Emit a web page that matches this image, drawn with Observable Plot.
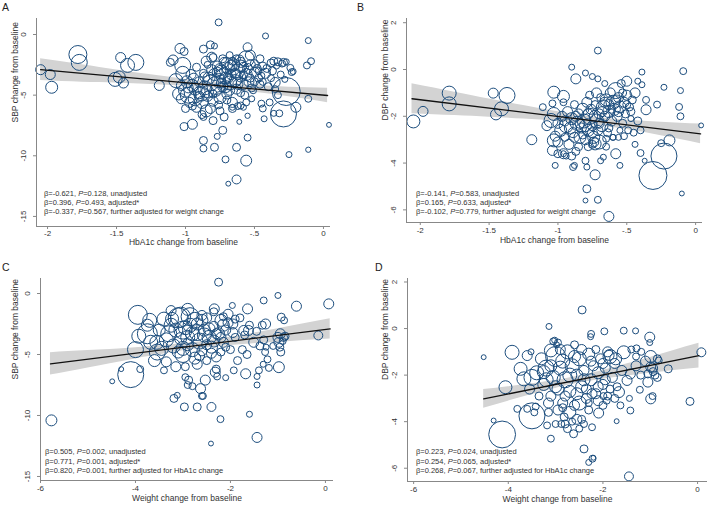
<!DOCTYPE html>
<html><head><meta charset="utf-8">
<script src="https://cdn.jsdelivr.net/npm/d3@7"></script>
<script src="https://cdn.jsdelivr.net/npm/@observablehq/plot@0.6"></script>
<style>
body{margin:0;background:#fff;font-family:"Liberation Sans",Arial,sans-serif;}
#wrap{position:relative;width:709px;height:508px;overflow:hidden;background:#fff;}
.panel{position:absolute;}
.letter{position:absolute;font-size:10.5px;color:#222;line-height:12px;}
.note{position:absolute;font-size:7.5px;line-height:9.3px;color:#333;white-space:nowrap;}
</style></head><body><div id="wrap"></div>
<script>
// ---- Panel A: HbA1c change vs SBP change  [x, y, study weight]
const hba1cSbp = [
[-2.05,-2.9,25],[-1.98,-3.3,25],[-1.97,-4.35,36],[-1.78,-1.65,81],[-1.77,-2.3,64],[-1.51,-3.7,49],[-1.48,-3.5,36],[-1.47,-1.9,25],[-1.45,-4.0,25],[-1.42,-2.55,49],[-1.36,-2.3,64],[-1.19,-4.2,25],[-1.11,-2.3,16],
[-0.76,1.0,12],[-0.42,-0.12,9],[-0.11,-0.5,9],[-1.04,-1.15,25],[-1.01,-1.4,16],[-0.87,-1.2,16],[-0.82,-0.85,16],[-0.79,-0.95,9],[-0.55,-1.05,20],[-0.12,-2.55,12],[-0.09,-2.2,12],[-1.02,-2.55,64],[-1.02,-3.2,49],[-1.07,-3.8,49],[-1.09,-2.1,25],[-0.84,-2.5,12],[-0.81,-1.87,25],[-0.56,-2.0,64],[-0.53,-1.7,25],[-0.46,-2.0,16],[-0.38,-2.35,16],[-0.33,-2.25,16],[-0.29,-2.3,16],[-0.27,-2.25,9],[-0.23,-3.1,12],[-0.24,-2.75,12],[-0.37,-3.0,16],[-0.22,-3.05,9],
[-0.11,-5.3,12],[-0.2,-6.0,25],[-0.32,-6.5,12],[-0.36,-6.5,9],[-0.43,-6.95,9],[-0.39,-5.6,12],[-0.45,-5.7,12],[-0.44,-6.1,12],[-0.55,-6.7,7],[-0.61,-7.2,6],[-0.55,-8.5,12],[-0.72,-6.8,16],[-0.73,-7.9,16],[-0.77,-8.4,9],[-0.87,-8.74,16],[-0.87,-9.4,12],[-0.79,-9.3,16],[-0.63,-9.3,16],[-0.71,-10.3,12],[-0.56,-10.4,30],[-0.25,-9.9,9],[-0.11,-9.5,7],[0.04,-7.45,6],[-0.69,-12.3,6],[-0.63,-11.95,20],[-1.01,-7.6,16],[-0.95,-7.4,25],[-0.87,-6.8,12],[-0.8,-7.1,16],[-0.75,-6.3,16],[-0.6,-5.85,12],[-0.66,-6.0,9],[-0.58,-6.0,9],
[-0.27,-4.7,196],[-0.29,-6.55,169],
[-1.05,-4.9,36],[-1.03,-5.3,25],[-1.0,-4.6,49],[-0.98,-5.0,64],[-0.97,-5.6,25],[-0.95,-4.2,36],[-0.94,-3.6,25],[-0.93,-5.3,49],[-0.92,-6.0,25],[-0.9,-4.8,36],[-0.9,-3.9,25],[-0.88,-5.6,36],[-0.87,-3.2,16],[-0.86,-4.4,49],[-0.85,-6.3,36],[-0.84,-5.1,25],[-0.83,-3.6,36],[-0.82,-4.0,64],[-0.81,-2.9,25],[-0.8,-5.5,25],[-0.79,-3.3,36],[-0.78,-4.6,36],[-0.77,-2.6,25],[-0.76,-3.8,49],[-0.75,-5.2,36],[-0.74,-3.1,49],[-0.73,-4.3,25],[-0.72,-2.3,25],[-0.71,-3.6,36],[-0.7,-4.9,25],[-0.69,-2.8,36],[-0.68,-4.0,49],[-0.67,-3.3,25],[-0.66,-5.6,25],[-0.65,-2.5,36],[-0.64,-3.8,36],[-0.63,-4.5,25],[-0.62,-3.0,49],[-0.61,-2.1,25],[-0.6,-3.5,25],[-0.59,-4.1,36],[-0.58,-2.7,25],[-0.57,-5.0,16],[-0.56,-3.3,36],[-0.54,-3.9,25],[-0.53,-2.5,25],[-0.52,-4.4,16],[-0.5,-3.1,25],[-0.48,-2.8,16],[-0.47,-3.6,16],[-0.46,-4.1,16],[-0.44,-2.6,16],[-0.42,-3.2,25],[-0.4,-4.3,16],[-0.38,-3.6,12],[-0.36,-2.2,16],[-0.34,-2.6,9],[-0.31,-3.3,12],[-0.3,-2.4,12],[-0.28,-3.7,9],[-0.8,-1.9,16],[-0.85,-2.2,25],[-0.92,-2.7,16],[-0.96,-3.3,25],[-0.99,-3.9,36],[-1.0,-6.1,16],[-0.88,-6.6,16],[-0.82,-6.1,25],[-0.76,-5.8,16],[-0.7,-5.4,16],[-0.66,-6.1,16],[-0.62,-5.9,12],[-0.56,-5.6,12],[-0.52,-5.3,9],[-0.6,-4.8,16],[-0.68,-4.6,25],[-0.72,-3.4,64],[-0.78,-4.2,81],[-0.65,-3.6,81],[-0.88,-4.9,49],[-0.75,-2.9,36],[-0.7,-2.4,36],[-0.6,-2.6,36],[-0.66,-2.2,16],
[-0.35,-3.95,25],[-0.5,-3.9,16],[-0.45,-3.4,12],[-0.51,-4.6,12],[-0.35,-4.5,12],[-0.33,-5.0,12],
[-0.98,-4.4,25],[-0.95,-5.9,16],[-0.9,-5.1,25],[-0.86,-3.5,25],[-0.84,-4.7,36],[-0.8,-4.9,16],[-0.77,-3.1,25],[-0.74,-4.0,25],[-0.71,-4.3,36],[-0.69,-3.6,25],[-0.67,-2.6,36],[-0.64,-3.2,25],[-0.62,-4.1,25],[-0.6,-2.3,25],[-0.58,-3.3,16],[-0.55,-2.8,25],[-0.53,-3.6,16],[-0.5,-2.4,16],[-0.47,-3.0,12],[-0.44,-3.9,12],[-0.41,-2.8,16],[-0.73,-2.0,16],[-0.68,-1.7,12],[-0.63,-2.0,16],[-0.93,-4.5,36],[-1.03,-4.2,25]
];
// ---- Panel B: HbA1c change vs DBP change
const hba1cDbp = [
[-2.05,-2.22,42],[-1.98,-1.79,25],[-1.79,-1.01,49],[-1.79,-1.47,49],[-1.47,-1.01,25],[-1.45,-1.92,30],[-1.41,-1.68,49],[-1.37,-1.11,64],[-1.19,-3.0,25],[-1.11,-1.61,12],
[-0.71,0.81,12],[-0.9,0.1,9],[-0.87,-0.4,25],[-0.8,-0.15,9],[-0.75,-0.3,9],[-0.71,-0.4,9],[-0.39,-0.11,9],[-0.09,-0.07,12],[-0.23,-0.76,9],[-0.42,-0.5,9],[-0.39,-0.65,9],[-0.11,-0.9,9],[-0.12,-1.6,12],[-0.11,-2.0,12],[0.04,-2.39,6],[-0.28,-1.5,12],[-0.36,-1.72,25],[-0.36,-1.3,12],
[-1.03,-0.97,36],[-0.96,-1.15,36],[-0.96,-1.4,12],[-1.04,-1.45,12],[-1.03,-1.9,42],[-1.05,-2.18,49],[-1.08,-2.4,25],[-1.03,-3.03,42],[-1.04,-3.46,25],[-1.0,-3.6,16],[-0.96,-3.6,9],[-0.94,-3.7,9],[-1.02,-4.1,9],[-0.89,-4.17,12],[-0.88,-4.1,9],[-0.79,-4.17,9],[-0.8,-3.9,12],[-0.73,-4.5,25],[-0.79,-5.1,16],[-0.8,-5.6,6],[-0.71,-5.57,12],[-0.63,-6.28,25],[-0.65,-3.3,12],[-0.58,-3.6,25],[-0.55,-4.1,9],[-0.69,-3.9,9],[-0.67,-3.75,9],[-0.73,-3.18,36],[-0.74,-3.1,25],[-0.75,-3.2,16],[-0.65,-2.96,12],[-0.6,-2.9,9],[-0.56,-2.9,9],[-0.52,-2.85,12],[-0.44,-3.2,9],[-0.4,-3.57,12],[-0.37,-3.9,6],[-0.1,-5.3,6],[-0.19,-3.03,30],[-0.25,-3.15,12],[-0.23,-3.7,169],[-0.31,-4.53,196],[-1.02,-2.85,25],[-1.0,-3.1,25],
[-1.0,-2.3,25],[-0.98,-2.6,36],[-0.97,-2.0,25],[-0.95,-2.9,16],[-0.94,-2.4,49],[-0.93,-1.8,25],[-0.92,-3.2,25],[-0.9,-2.1,36],[-0.89,-2.7,25],[-0.88,-1.5,16],[-0.87,-3.5,16],[-0.86,-2.3,49],[-0.85,-1.9,25],[-0.84,-2.9,36],[-0.83,-2.5,25],[-0.82,-1.7,36],[-0.81,-2.2,49],[-0.8,-3.0,25],[-0.79,-1.4,25],[-0.78,-2.6,36],[-0.77,-2.0,64],[-0.76,-1.7,25],[-0.75,-2.4,25],[-0.74,-2.9,36],[-0.73,-1.5,16],[-0.72,-2.2,49],[-0.71,-2.6,25],[-0.7,-1.9,25],[-0.69,-1.2,16],[-0.68,-2.4,36],[-0.67,-1.6,49],[-0.66,-2.0,25],[-0.65,-1.3,36],[-0.64,-2.7,16],[-0.63,-1.8,36],[-0.62,-1.0,25],[-0.61,-2.2,25],[-0.6,-1.4,49],[-0.59,-1.7,36],[-0.58,-0.9,64],[-0.57,-2.0,25],[-0.56,-1.2,25],[-0.55,-1.6,36],[-0.54,-0.6,16],[-0.53,-2.3,16],[-0.52,-1.4,25],[-0.51,-1.9,16],[-0.5,-1.1,25],[-0.49,-2.6,12],[-0.48,-1.6,16],[-0.47,-2.1,9],[-0.46,-1.3,16],[-0.45,-2.7,12],[-0.63,-2.5,16],[-0.7,-3.1,49],[-0.78,-3.3,16],[-0.85,-3.3,16],[-0.9,-3.7,16],[-0.96,-3.6,25],[-0.6,-2.9,9],[-0.66,-0.6,9],[-0.72,-1.0,25],[-0.77,-1.1,16],[-0.55,-2.6,9],[-0.42,-2.2,16],[-0.4,-2.6,12],[-0.44,-1.0,25],[-0.5,-0.5,25],
[-0.95,-2.2,25],[-0.91,-2.5,36],[-0.87,-2.0,25],[-0.84,-2.3,25],[-0.8,-2.4,36],[-0.78,-1.9,25],[-0.75,-2.7,25],[-0.73,-2.0,36],[-0.7,-2.3,25],[-0.68,-1.8,25],[-0.66,-1.4,25],[-0.63,-1.5,25],[-0.61,-1.7,16],[-0.58,-1.3,25],[-0.56,-1.8,25],[-0.53,-1.0,16],[-0.5,-1.5,16],[-0.47,-1.8,16],[-0.88,-2.9,25],[-0.82,-2.8,16]
];
// ---- Panel C: weight change vs SBP change
const weightSbp = [
[-5.77,-10.4,30],[-4.49,-7.2,6],[-4.3,-6.2,6],[-4.1,-6.65,169],[-3.95,-1.75,90],[-3.7,-2.2,49],[-3.75,-3.3,100],[-3.93,-3.5,49],[-4.0,-4.6,64],[-3.68,-4.0,49],[-3.54,-4.8,64],[-3.9,-6.2,12],[-3.4,-6.3,12],[-3.23,-2.08,42],[-3.05,-1.94,100],[-2.95,-6.86,12],[-2.88,-7.1,16],[-2.9,-7.5,12],[-2.8,-7.6,12],[-2.63,-7.8,25],[-2.6,-8.4,12],[-3.19,-8.6,16],[-3.12,-8.35,9],[-2.97,-9.3,16],[-2.7,-9.3,16],[-2.4,-9.3,20],[-2.21,-10.3,12],[-2.41,-12.3,6],[-1.6,-9.9,9],[-1.44,-11.8,25],
[-2.25,0.93,16],[-1.0,-0.16,9],[-1.3,-0.57,12],[-0.61,-1.04,25],[0.07,-0.85,25],[-1.96,-0.98,9],[-2.34,-1.26,25],[-1.64,-1.26,25],[-0.93,-1.94,16],[-0.87,-2.2,12],[-1.26,-2.5,25],[-1.33,-2.6,16],[-1.62,-3.03,25],[-1.72,-3.03,25],[-0.15,-3.44,20],[-0.95,-3.3,25],[-0.88,-3.6,16],[-1.51,-4.0,25],[-1.38,-4.3,16],[-1.27,-4.8,12],[-1.22,-5.4,12],[-0.98,-6.04,30],[-1.19,-6.1,12],[-1.31,-5.8,9],[-1.4,-6.3,12],[-1.44,-6.8,9],[-1.44,-7.5,9],[-1.68,-6.58,25],[-1.93,-6.3,12],[-2.1,-6.9,9],[-2.32,-6.45,25],[-2.28,-6.8,12],[-2.53,-7.1,25],[-2.58,-8.4,12],
[-3.4,-2.1,49],[-3.3,-3.3,64],[-3.2,-4.3,49],[-3.1,-2.0,100],[-3.05,-3.7,36],[-3.0,-5.0,64],[-2.95,-2.8,49],[-2.9,-4.2,36],[-2.85,-1.9,81],[-2.8,-3.3,49],[-2.75,-5.3,36],[-2.7,-2.5,36],[-2.65,-3.9,64],[-2.6,-4.7,25],[-2.55,-3.0,36],[-2.5,-2.0,25],[-2.45,-3.6,49],[-2.4,-4.4,36],[-2.35,-2.7,25],[-2.3,-5.2,25],[-2.25,-3.3,36],[-2.2,-2.2,36],[-2.15,-4.0,25],[-2.1,-3.0,25],[-2.05,-1.7,25],[-2.0,-4.6,16],[-1.95,-2.5,25],[-1.9,-3.6,16],[-1.85,-5.5,16],[-1.8,-2.0,16],[-3.5,-3.0,36],[-3.45,-4.5,49],[-3.6,-5.5,36],[-3.35,-5.6,25],[-3.15,-6.0,25],[-2.95,-6.0,16],[-2.7,-5.8,25],[-2.5,-5.5,16],[-2.3,-6.2,16],[-3.25,-1.4,25],[-2.9,-1.3,36],[-2.6,-1.8,25],[-2.35,-1.5,16],[-3.55,-4.0,49],[-3.75,-2.6,36],[-2.8,-4.6,49],[-2.5,-4.2,25],[-2.2,-4.8,16],[-1.75,-4.6,16],[-1.7,-3.4,16],[-1.65,-5.0,16],[-1.6,-2.6,16],[-3.0,-3.0,81],[-2.75,-2.2,64],[-2.55,-3.4,49],[-2.35,-3.9,36],[-2.15,-2.6,36],[-1.95,-3.2,25],
[-1.0,-3.6,25],[-0.98,-4.0,25],[-0.96,-4.4,16],[-0.94,-4.8,16],[-0.9,-3.9,12],[-1.1,-4.3,12],[-1.3,-3.8,16],[-1.25,-4.4,9],[-1.45,-3.1,16],[-0.85,-3.5,16],
[-3.35,-3.8,49],[-3.15,-3.0,49],[-3.0,-4.5,49],[-2.85,-2.6,49],[-2.7,-3.2,64],[-2.6,-2.2,36],[-2.45,-2.9,36],[-2.3,-3.3,25],[-2.2,-3.6,25],[-2.05,-2.4,25],[-1.9,-2.1,16],[-2.9,-3.6,49],[-3.1,-4.8,36],[-2.4,-4.9,25],[-2.1,-4.4,16],[-2.65,-5.1,25],[-3.25,-2.6,49],[-2.15,-1.9,16]
];
// ---- Panel D: weight change vs DBP change
const weightDbp = [
[-4.52,-1.23,6],[-4.31,-3.95,6],[-4.13,-4.55,180],[-4.06,-2.52,42],[-3.92,-1.02,49],[-3.6,-1.16,25],[-3.52,-1.0,9],[-3.74,-1.73,42],[-3.67,-2.16,49],[-3.5,-3.75,169],[-3.81,-3.45,12],[-3.6,-3.45,12],[-3.42,-3.35,12],[-3.45,-3.6,12],[-3.14,0.09,9],[-3.1,-0.94,42],[-3.02,-0.5,9],[-2.98,-0.7,9],[-3.25,-1.87,42],[-3.15,-3.2,25],[-3.18,-4.16,12],[-3.0,-4.1,12],[-2.88,-4.1,12],[-3.1,-4.73,12],[-2.85,-3.4,16],[-2.82,-3.8,16],[-2.65,-4.0,12],[-2.75,-4.3,16],
[-2.44,0.8,16],[-2.25,-0.23,12],[-2.26,-0.35,9],[-1.97,-0.12,12],[-1.56,-0.09,12],[-1.31,-0.1,9],[-1.01,-0.37,25],[-1.01,-0.6,9],[0.08,-1.02,20],[-0.62,-1.73,16],[-0.82,-1.37,12],[-0.99,-1.2,36],[-0.99,-1.65,25],[-0.94,-1.85,16],[-1.05,-1.95,16],[-1.29,-0.85,12],[-1.19,-1.0,12],[-1.56,-1.02,42],[-1.73,-1.3,36],[-1.87,-1.15,25],[-1.42,-1.95,25],[-1.49,-2.23,25],[-1.22,-2.63,12],[-1.44,-3.0,9],[-1.66,-2.73,30],[-1.63,-3.3,12],[-0.99,-3.02,25],[-0.95,-2.9,12],[-0.16,-3.13,16],[-1.42,-3.52,12],[-1.71,-3.98,6],[-2.09,-3.63,25],[-1.92,-3.1,12],[-1.99,-2.9,12],[-2.23,-2.8,25],[-2.3,-3.2,12],[-2.23,-4.24,12],[-2.45,-3.9,16],[-2.5,-4.3,12],[-2.62,-4.52,16],[-2.4,-5.17,16],[-2.22,-5.59,12],[-2.2,-5.55,6],[-1.45,-6.35,20],[-2.3,-5.75,9],
[-3.4,-1.9,49],[-3.3,-1.3,36],[-3.25,-2.4,36],[-3.2,-1.7,64],[-3.1,-2.9,25],[-3.05,-2.1,49],[-3.0,-1.2,100],[-2.95,-2.6,36],[-2.9,-1.7,49],[-2.85,-3.2,25],[-2.8,-2.2,64],[-2.75,-1.0,49],[-2.7,-2.7,36],[-2.65,-1.6,49],[-2.6,-3.3,25],[-2.55,-2.0,36],[-2.5,-1.3,49],[-2.45,-2.5,36],[-2.4,-1.8,25],[-2.35,-3.0,25],[-2.3,-1.1,36],[-2.25,-2.2,36],[-2.2,-1.6,25],[-2.15,-2.8,25],[-2.1,-1.9,36],[-2.05,-1.3,25],[-2.0,-2.4,25],[-1.95,-1.7,25],[-1.9,-2.9,16],[-1.85,-1.2,49],[-1.8,-2.1,25],[-1.75,-1.5,25],[-1.7,-2.5,16],[-3.5,-2.1,64],[-3.55,-2.6,25],[-3.15,-3.6,16],[-2.95,-3.5,25],[-2.7,-3.6,36],[-2.5,-3.2,49],[-2.3,-3.5,16],[-2.1,-3.1,25],[-2.9,-0.9,25],[-2.6,-0.7,16],[-2.45,-0.9,25],[-2.15,-0.9,16],[-1.9,-1.0,25],[-3.05,-0.55,12],[-2.95,-0.6,12],[-3.35,-2.9,16],[-2.8,-4.1,16],[-2.55,-3.9,25],[-2.4,-4.1,12],[-2.0,-3.3,16],[-1.75,-3.0,16],[-1.6,-1.8,25],[-1.3,-1.6,25],[-1.2,-2.0,16],[-1.1,-1.4,25],[-0.95,-1.7,25],[-0.9,-2.0,16],[-1.05,-2.3,25],[-1.4,-0.9,12],[-1.3,-1.2,12],[-0.85,-1.3,16],[-0.85,-2.1,16],
[-3.2,-2.2,49],[-3.0,-2.5,36],[-2.85,-1.4,49],[-2.7,-2.0,49],[-2.55,-2.8,36],[-2.4,-2.2,36],[-2.25,-1.4,25],[-2.1,-2.5,25],[-1.95,-2.2,25],[-2.6,-1.2,36],[-2.8,-2.9,25],[-3.1,-1.6,36],[-2.35,-2.6,25],[-2.0,-1.5,25],[-1.85,-2.6,16]
];

// ---- fitted lines (endpoints) and 95% CI bands
const fitA_x = [-2.05, 0.03], fitA_y = [-2.9, -5.03];
const bandA_x  = [-2.05,-1.75,-1.5,-1.25,-1.0,-0.75,-0.5,-0.25,0.03];
const bandA_lo = [-3.80,-3.93,-4.00,-4.12,-4.26,-4.45,-4.77,-5.14,-5.63];
const bandA_hi = [-2.00,-2.49,-2.92,-3.32,-3.70,-4.01,-4.21,-4.34,-4.43];

const fitB_x = [-2.06, 0.036], fitB_y = [-1.25, -2.75];
const bandB_x  = [-2.06,-1.75,-1.5,-1.25,-1.0,-0.75,-0.5,-0.25,0.036];
const bandB_lo = [-1.89,-1.97,-2.04,-2.12,-2.21,-2.35,-2.57,-2.83,-3.17];
const bandB_hi = [-0.61,-0.97,-1.26,-1.54,-1.81,-2.03,-2.17,-2.25,-2.33];

const fitC_x = [-5.79, 0.1], fitC_y = [-5.77, -2.9];
const bandC_x  = [-5.79,-5,-4,-3,-2.7,-2,-1,0.1];
const bandC_lo = [-6.69,-6.10,-5.36,-4.70,-4.55,-4.26,-4.00,-3.74];
const bandC_hi = [-4.85,-4.68,-4.44,-4.12,-3.99,-3.58,-2.88,-2.06];

const fitD_x = [-4.52, 0.03], fitD_y = [-3.02, -1.16];
const bandD_x  = [-4.52,-4,-3.5,-3,-2.6,-2,-1.5,-1,-0.5,0.03];
const bandD_lo = [-3.42,-3.12,-2.83,-2.57,-2.38,-2.18,-2.04,-1.92,-1.80,-1.69];
const bandD_hi = [-2.62,-2.50,-2.37,-2.23,-2.08,-1.80,-1.52,-1.24,-0.94,-0.63];

// ---- ticks and labels
const hbTicks = [-2,-1.5,-1,-0.5,0];
const wtTicks = [-6,-4,-2,0];
const sbpTicks = [0,-5,-10,-15];
const dbpTicks = [2,0,-2,-4,-6];
const hbLabel = "HbA1c change from baseline";
const wtLabel = "Weight change from baseline";
const sbpLabel = "SBP change from baseline";
const dbpLabel = "DBP change from baseline";
const statsA = [["-0.621","0.128","unadjusted"],["0.396","0.493","adjusted*"],["-0.337","0.567","further adjusted for weight change"]];
const statsB = [["-0.141","0.583","unadjusted"],["0.165","0.633","adjusted*"],["-0.102","0.779","further adjusted for weight change"]];
const statsC = [["0.505","0.002","unadjusted"],["0.771","0.001","adjusted*"],["0.820","0.001","further adjusted for HbA1c change"]];
const statsD = [["0.223","0.024","unadjusted"],["0.254","0.065","adjusted*"],["0.268","0.067","further adjusted for HbA1c change"]];

const wrap = document.getElementById("wrap");
const fmt = d => d === 0 ? "0" : String(d).replace(/^(-?)0\./, "$1.");
const FONT = "Liberation Sans, Arial, sans-serif";

function panel(cfg) {
  const pts = cfg.pts.map(([x, y, w]) => ({x, y, w}));
  const band = cfg.bx.map((x, i) => ({x, lo: cfg.blo[i], hi: cfg.bhi[i]}));
  const fit = cfg.fx.map((x, i) => ({x, y: cfg.fy[i]}));
  const svg = Plot.plot({
    width: cfg.width, height: cfg.height,
    marginLeft: cfg.m[0], marginRight: cfg.m[1], marginTop: cfg.m[2], marginBottom: cfg.m[3],
    x: {domain: cfg.xd}, y: {domain: cfg.yd},
    r: {type: "sqrt", domain: [0, 225], range: [0, 15]},
    style: {fontFamily: FONT, fontSize: "8px", background: "transparent", overflow: "visible", color: "#333"},
    marks: [
      Plot.areaY(band, {x: "x", y1: "lo", y2: "hi", fill: "#d3d3d3", curve: "natural"}),
      Plot.dot(pts, {x: "x", y: "y", r: "w", stroke: "#1d4e7e", strokeWidth: 1, fill: "none"}),
      Plot.line(fit, {x: "x", y: "y", stroke: "#111", strokeWidth: 1.3}),
      Plot.ruleX([cfg.xd[0]], {stroke: "#888", strokeWidth: 1}),
      Plot.ruleY([cfg.yd[0]], {stroke: "#888", strokeWidth: 1}),
      Plot.axisX({ticks: cfg.xt, tickFormat: fmt, tickSize: 3, tickPadding: cfg.xtp, label: null, stroke: "#888", fill: "#333", fontSize: 8}),
      Plot.axisY({ticks: cfg.yt, tickFormat: fmt, tickSize: 3, tickPadding: 8, tickRotate: -90, label: null, stroke: "#888", fill: "#333", fontSize: 8}),
      Plot.text([cfg.xl], {frameAnchor: "bottom", dy: cfg.xlDy, text: d => d, fontSize: 8.5, fill: "#333"}),
      Plot.text([cfg.yl], {frameAnchor: "left", dx: cfg.ylDx, rotate: -90, text: d => d, fontSize: 8.5, fill: "#333"})
    ]
  });
  const div = document.createElement("div");
  div.className = "panel";
  div.style.left = cfg.left + "px"; div.style.top = cfg.top + "px";
  div.appendChild(svg);
  wrap.appendChild(div);
  const lt = document.createElement("div");
  lt.className = "letter"; lt.textContent = cfg.letter;
  lt.style.left = cfg.letterPos[0] + "px"; lt.style.top = cfg.letterPos[1] + "px";
  wrap.appendChild(lt);
  const note = document.createElement("div");
  note.className = "note";
  note.style.left = cfg.notePos[0] + "px"; note.style.top = cfg.notePos[1] + "px";
  note.innerHTML = cfg.stats.map(([b, p, t]) => `β=${b}, <i>P</i>=${p}, ${t}`).join("<br>");
  wrap.appendChild(note);
}

panel({letter: "A", letterPos: [2, 1], notePos: [44, 188.5], left: 0, top: 0, width: 350, height: 250, m: [36, 20, 18, 24],
  xd: [-2.08, 0.051], yd: [-15.83, 1.32], xt: hbTicks, yt: sbpTicks, xl: hbLabel, yl: sbpLabel, xlDy: 18.5, xtp: 1, ylDx: -21,
  pts: hba1cSbp, fx: fitA_x, fy: fitA_y, bx: bandA_x, blo: bandA_lo, bhi: bandA_hi, stats: statsA});
panel({letter: "B", letterPos: [357, 1], notePos: [416, 188.5], left: 350, top: 0, width: 359, height: 250, m: [56, 7, 18, 28],
  xd: [-2.10, 0.05], yd: [-6.54, 2.18], xt: hbTicks, yt: dbpTicks, xl: hbLabel, yl: dbpLabel, xlDy: 20, xtp: 2, ylDx: -21,
  pts: hba1cDbp, fx: fitB_x, fy: fitB_y, bx: bandB_x, blo: bandB_lo, bhi: bandB_hi, stats: statsB});
panel({letter: "C", letterPos: [2, 261], notePos: [45, 447.3], left: 0, top: 250, width: 350, height: 258, m: [40, 17, 28, 28],
  xd: [-6.0, 0.17], yd: [-15.33, 1.23], xt: wtTicks, yt: sbpTicks, xl: wtLabel, yl: sbpLabel, xlDy: 20.5, xtp: 2, ylDx: -25,
  pts: weightSbp, fx: fitC_x, fy: fitC_y, bx: bandC_x, blo: bandC_lo, bhi: bandC_hi, stats: statsC});
panel({letter: "D", letterPos: [375, 261], notePos: [416, 447.3], left: 350, top: 250, width: 359, height: 258, m: [57, 2, 28, 27],
  xd: [-6.13, 0.21], yd: [-6.57, 2.15], xt: wtTicks, yt: dbpTicks, xl: wtLabel, yl: dbpLabel, xlDy: 20, xtp: 2, ylDx: -22,
  pts: weightDbp, fx: fitD_x, fy: fitD_y, bx: bandD_x, blo: bandD_lo, bhi: bandD_hi, stats: statsD});
</script></body></html>
